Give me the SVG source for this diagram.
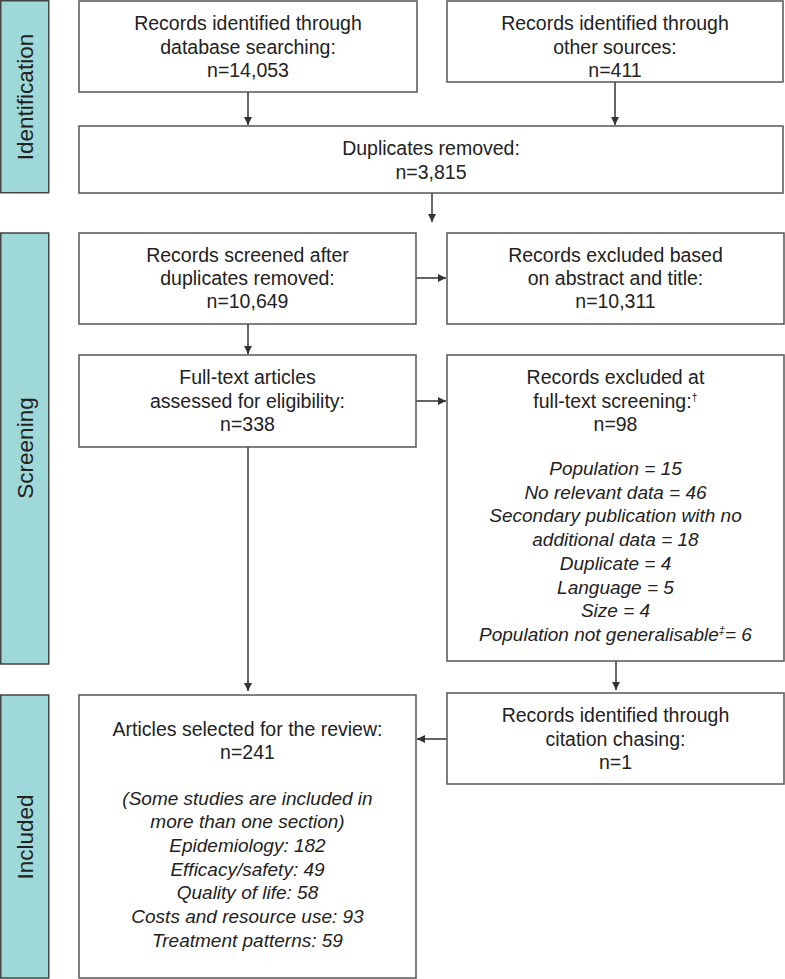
<svg xmlns="http://www.w3.org/2000/svg" width="785" height="979" viewBox="0 0 785 979">
<style>
text{font-family:"Liberation Sans",Arial,sans-serif;font-size:19.5px;fill:#222;text-anchor:middle}
.it{font-style:italic;font-size:19px}
.side{font-size:22.5px}
.box{fill:#fff;stroke:#555;stroke-width:1.5}
.bar{fill:#9fd8d8;stroke:#444;stroke-width:1.5}
.con{stroke:#333;stroke-width:1.5;fill:none}
.sup{font-size:11px}
</style>
<defs>
<marker id="ah" viewBox="0 0 10 10" refX="10" refY="5" markerWidth="8" markerHeight="8" markerUnits="userSpaceOnUse" orient="auto">
<path d="M0,0 L10,5 L0,10 z" fill="#333"/>
</marker>
</defs>
<g id="bar-identification">
<rect class="bar" x="0.75" y="0.75" width="48" height="192"/>
<text class="side" transform="translate(33,97) rotate(-90)">Identification</text>
</g>
<g id="bar-screening">
<rect class="bar" x="0.75" y="233" width="48" height="431"/>
<text class="side" transform="translate(33,448) rotate(-90)">Screening</text>
</g>
<g id="bar-included">
<rect class="bar" x="0.75" y="695" width="48" height="283"/>
<text class="side" transform="translate(33,837) rotate(-90)">Included</text>
</g>
<g id="connectors">
<line class="con" x1="248" y1="92" x2="248" y2="125" marker-end="url(#ah)"/>
<line class="con" x1="615" y1="82" x2="615" y2="125" marker-end="url(#ah)"/>
<line class="con" x1="432" y1="193" x2="432" y2="222" marker-end="url(#ah)"/>
<line class="con" x1="416" y1="278" x2="446" y2="278" marker-end="url(#ah)"/>
<line class="con" x1="248" y1="324" x2="248" y2="354" marker-end="url(#ah)"/>
<line class="con" x1="416" y1="401" x2="446" y2="401" marker-end="url(#ah)"/>
<line class="con" x1="248" y1="447" x2="248" y2="691" marker-end="url(#ah)"/>
<line class="con" x1="616" y1="661" x2="616" y2="690" marker-end="url(#ah)"/>
<line class="con" x1="447" y1="739" x2="417" y2="739" marker-end="url(#ah)"/>
</g>
<g id="db-search">
<rect class="box" x="79" y="1" width="338" height="91"/>
<text x="248" y="30">Records identified through</text>
<text x="248" y="53.5">database searching:</text>
<text x="248" y="77">n=14,053</text>
</g>
<g id="other-sources">
<rect class="box" x="447" y="1" width="336" height="81"/>
<text x="615" y="30">Records identified through</text>
<text x="615" y="53.5">other sources:</text>
<text x="615" y="77">n=411</text>
</g>
<g id="duplicates">
<rect class="box" x="79" y="126" width="704" height="67"/>
<text x="431" y="155">Duplicates removed:</text>
<text x="431" y="179">n=3,815</text>
</g>
<g id="screened">
<rect class="box" x="79" y="233" width="337" height="91"/>
<text x="247.5" y="262">Records screened after</text>
<text x="247.5" y="285">duplicates removed:</text>
<text x="247.5" y="308">n=10,649</text>
</g>
<g id="excluded-abstract">
<rect class="box" x="447" y="233" width="337" height="91"/>
<text x="615.5" y="262">Records excluded based</text>
<text x="615.5" y="285">on abstract and title:</text>
<text x="615.5" y="308">n=10,311</text>
</g>
<g id="fulltext">
<rect class="box" x="79" y="355" width="337" height="92"/>
<text x="247.5" y="384">Full-text articles</text>
<text x="247.5" y="408">assessed for eligibility:</text>
<text x="247.5" y="431">n=338</text>
</g>
<g id="excluded-fulltext">
<rect class="box" x="447" y="355" width="337" height="306"/>
<text x="615.5" y="384">Records excluded at</text>
<text x="615.5" y="408">full-text screening:<tspan class="sup" dy="-7">†</tspan></text>
<text x="615.5" y="431">n=98</text>
<text class="it" x="615.5" y="475">Population = 15</text>
<text class="it" x="615.5" y="499">No relevant data = 46</text>
<text class="it" x="615.5" y="522">Secondary publication with no</text>
<text class="it" x="615.5" y="546">additional data = 18</text>
<text class="it" x="615.5" y="570">Duplicate = 4</text>
<text class="it" x="615.5" y="594">Language = 5</text>
<text class="it" x="615.5" y="617">Size = 4</text>
<text class="it" x="615.5" y="641">Population not generalisable<tspan class="sup" dy="-7">‡</tspan><tspan dy="7">= 6</tspan></text>
</g>
<g id="citation">
<rect class="box" x="447" y="693" width="337" height="91"/>
<text x="615.5" y="722">Records identified through</text>
<text x="615.5" y="746">citation chasing:</text>
<text x="615.5" y="769">n=1</text>
</g>
<g id="selected">
<rect class="box" x="79" y="695" width="337" height="283"/>
<text x="247.5" y="736">Articles selected for the review:</text>
<text x="247.5" y="759">n=241</text>
<text class="it" x="247.5" y="805">(Some studies are included in</text>
<text class="it" x="247.5" y="828">more than one section)</text>
<text class="it" x="247.5" y="852">Epidemiology: 182</text>
<text class="it" x="247.5" y="876">Efficacy/safety: 49</text>
<text class="it" x="247.5" y="899">Quality of life: 58</text>
<text class="it" x="247.5" y="923">Costs and resource use: 93</text>
<text class="it" x="247.5" y="947">Treatment patterns: 59</text>
</g>
</svg>
